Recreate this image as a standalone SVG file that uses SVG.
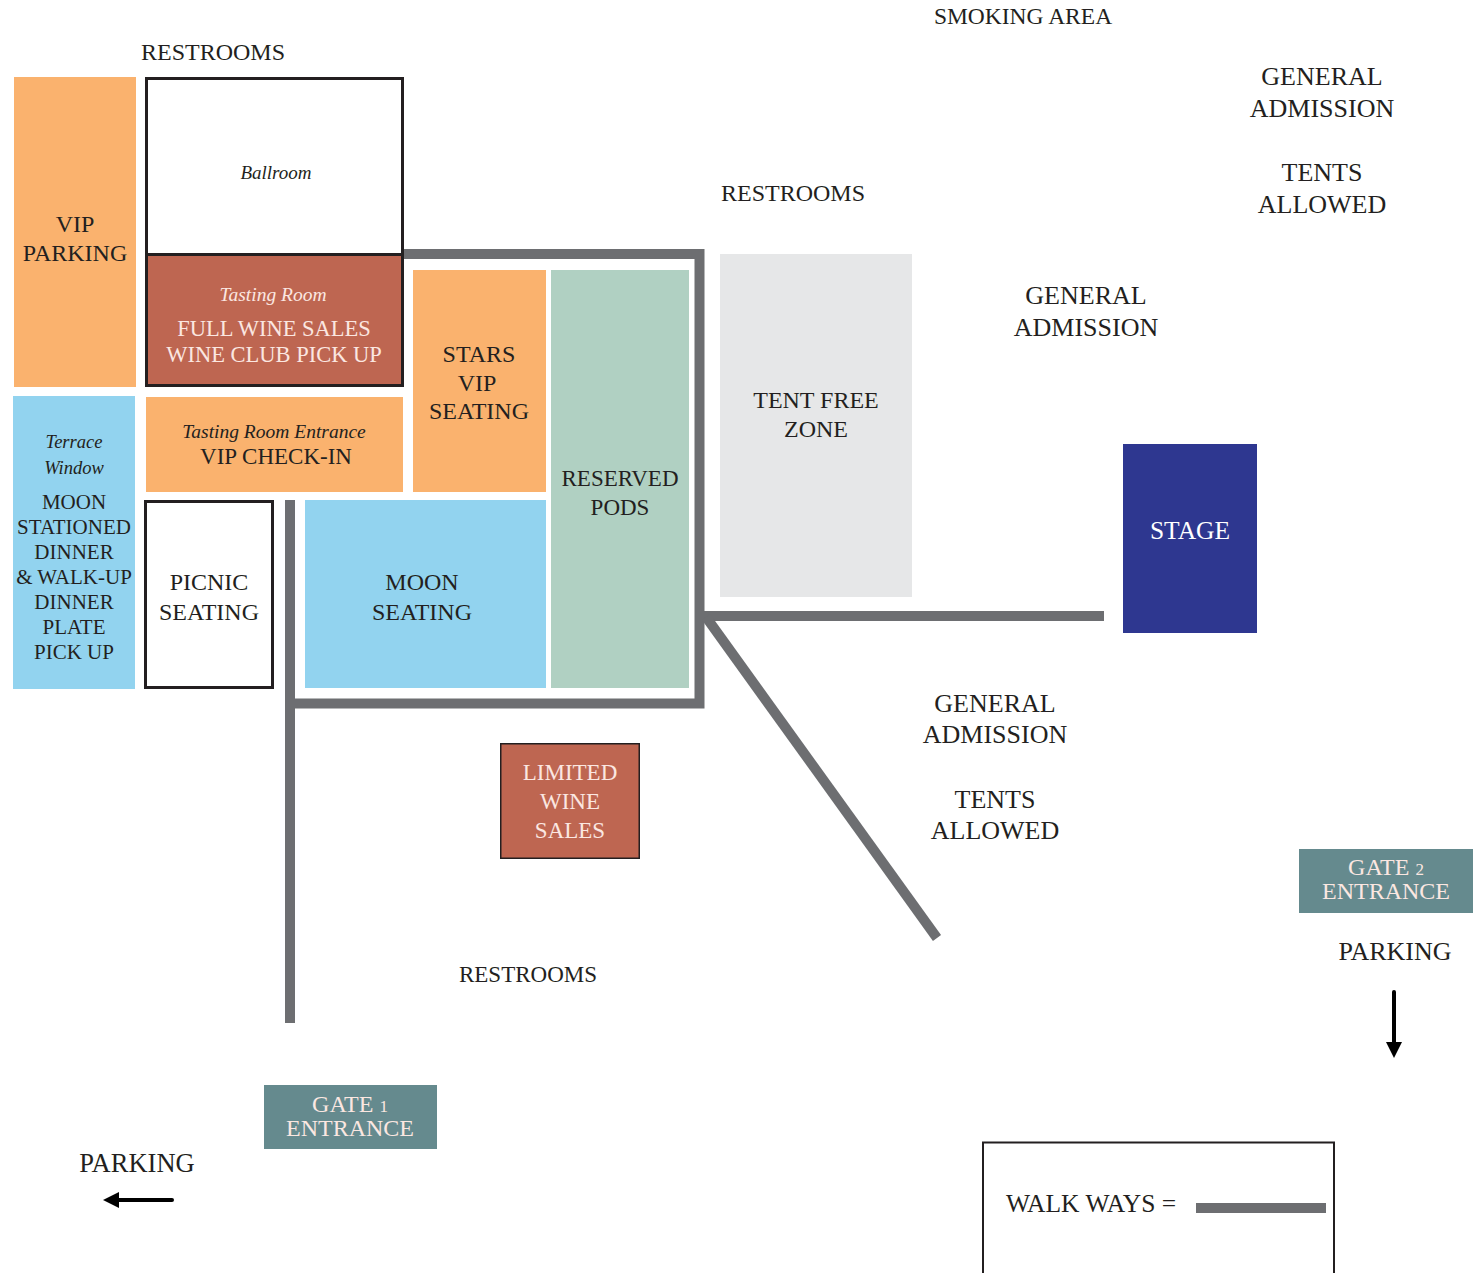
<svg xmlns="http://www.w3.org/2000/svg" width="1475" height="1273" viewBox="0 0 1475 1273">
<style>
text{font-family:"Liberation Serif","Times New Roman",serif;fill:#231F20;text-anchor:middle}
.it{font-style:italic}
.lt{fill:#FBE7E1}
.wh{fill:#FFFFFF}
.orange{fill:#FAB26E}
.blue{fill:#92D3EF}
.red{fill:#BE6651}
.teal{fill:#658A8E}
.box{stroke:#231F20;stroke-width:3}
.walk{fill:none;stroke:#6D6E71;stroke-width:10;stroke-linecap:butt;stroke-linejoin:miter}
.arr{fill:none;stroke:#000;stroke-width:4;stroke-linecap:round}
</style>
<defs>
<marker id="ah" viewBox="0 0 10 10" refX="5" refY="5" markerWidth="4" markerHeight="4" orient="auto-start-reverse" markerUnits="strokeWidth">
<path d="M0,0 L10,5 L0,10 Z" fill="#000"/>
</marker>
</defs>
<rect width="1475" height="1273" fill="#FFFFFF"/>

<g id="walkways">
<path class="walk" d="M404,254 H699.5 V703.5 H285"/>
<path class="walk" d="M290,500 V1023"/>
<path class="walk" d="M704,616 H1104"/>
<path class="walk" d="M706,617 L937,938"/>
</g>

<g id="labels">
<text x="213" y="60" font-size="24">RESTROOMS</text>
<text x="1023" y="24" font-size="23.5">SMOKING AREA</text>
<text x="1322" y="85" font-size="26">GENERAL</text>
<text x="1322" y="117" font-size="26">ADMISSION</text>
<text x="1322" y="181" font-size="26">TENTS</text>
<text x="1322" y="213" font-size="26">ALLOWED</text>
<text x="793" y="201" font-size="24">RESTROOMS</text>
<text x="1086" y="304" font-size="26">GENERAL</text>
<text x="1086" y="336" font-size="26">ADMISSION</text>
<text x="995" y="712" font-size="26">GENERAL</text>
<text x="995" y="743" font-size="26">ADMISSION</text>
<text x="995" y="808" font-size="26">TENTS</text>
<text x="995" y="839" font-size="26">ALLOWED</text>
<text x="528" y="982" font-size="23">RESTROOMS</text>
</g>

<g id="vip-parking">
<rect class="orange" x="14" y="77" width="122" height="310"/>
<text x="75" y="232" font-size="24">VIP</text>
<text x="75" y="261" font-size="24">PARKING</text>
</g>

<g id="ballroom">
<rect x="146.5" y="78.5" width="256" height="176" fill="#FFFFFF" class="box"/>
<text class="it" x="276" y="179" font-size="19">Ballroom</text>
</g>

<g id="tasting-room">
<rect class="red box" x="146.5" y="254.5" width="256" height="131"/>
<text class="it lt" x="273" y="301" font-size="19.5">Tasting Room</text>
<text class="lt" x="274" y="336" font-size="22.5">FULL WINE SALES</text>
<text class="lt" x="274" y="362" font-size="22.5">WINE CLUB PICK UP</text>
</g>

<g id="terrace-window">
<rect class="blue" x="13" y="396" width="122" height="293"/>
<text class="it" x="74" y="448" font-size="18.5">Terrace</text>
<text class="it" x="74" y="474" font-size="18.5">Window</text>
<text x="74" y="509" font-size="21">MOON</text>
<text x="74" y="534" font-size="21">STATIONED</text>
<text x="74" y="559" font-size="21">DINNER</text>
<text x="74" y="584" font-size="21">&amp; WALK-UP</text>
<text x="74" y="609" font-size="21">DINNER</text>
<text x="74" y="634" font-size="21">PLATE</text>
<text x="74" y="659" font-size="21">PICK UP</text>
</g>

<g id="tasting-room-entrance">
<rect class="orange" x="146" y="397" width="257" height="95"/>
<text class="it" x="274" y="438" font-size="19.5">Tasting Room Entrance</text>
<text x="276" y="464" font-size="23">VIP CHECK-IN</text>
</g>

<g id="picnic-seating">
<rect x="145.5" y="501.5" width="127" height="186" fill="#FFFFFF" class="box"/>
<text x="209" y="590" font-size="24">PICNIC</text>
<text x="209" y="620" font-size="24">SEATING</text>
</g>

<g id="stars-vip-seating">
<rect class="orange" x="413" y="270" width="133" height="222"/>
<text x="479" y="362" font-size="24">STARS</text>
<text x="477" y="391" font-size="24">VIP</text>
<text x="479" y="419" font-size="24">SEATING</text>
</g>

<g id="moon-seating">
<rect class="blue" x="305" y="500" width="241" height="188"/>
<text x="422" y="590" font-size="24">MOON</text>
<text x="422" y="620" font-size="24">SEATING</text>
</g>

<g id="reserved-pods">
<rect fill="#B0D0C2" x="551" y="270" width="138" height="418"/>
<text x="620" y="486" font-size="23">RESERVED</text>
<text x="620" y="515" font-size="23">PODS</text>
</g>

<g id="tent-free-zone">
<rect fill="#E6E7E8" x="720" y="254" width="192" height="343"/>
<text x="816" y="408" font-size="24">TENT FREE</text>
<text x="816" y="437" font-size="24">ZONE</text>
</g>

<g id="stage">
<rect fill="#2E3790" x="1123" y="444" width="134" height="189"/>
<text class="wh" x="1190" y="539" font-size="25.5">STAGE</text>
</g>

<g id="limited-wine-sales">
<rect class="red" x="500.75" y="743.75" width="138.5" height="114.5" stroke="#231F20" stroke-width="1.5"/>
<text class="lt" x="570" y="780" font-size="23">LIMITED</text>
<text class="lt" x="570" y="809" font-size="23">WINE</text>
<text class="lt" x="570" y="838" font-size="23">SALES</text>
</g>

<g id="gate-2">
<rect class="teal" x="1299" y="849" width="174" height="64"/>
<text class="lt" x="1386" y="875" font-size="24">GATE <tspan font-size="17">2</tspan></text>
<text class="lt" x="1386" y="899" font-size="24">ENTRANCE</text>
<text x="1395" y="960" font-size="26">PARKING</text>
<path class="arr" d="M1394,992 V1050" marker-end="url(#ah)"/>
</g>

<g id="gate-1">
<rect class="teal" x="264" y="1085" width="173" height="64"/>
<text class="lt" x="350" y="1112" font-size="24">GATE <tspan font-size="17">1</tspan></text>
<text class="lt" x="350" y="1136" font-size="24">ENTRANCE</text>
<text x="137" y="1172" font-size="26.5">PARKING</text>
<path class="arr" d="M172,1200 H111" marker-end="url(#ah)"/>
</g>

<g id="legend">
<path d="M983,1273 V1142.5 H1334 V1273" fill="none" stroke="#231F20" stroke-width="2"/>
<text x="1091" y="1212" font-size="25.5">WALK WAYS =</text>
<rect x="1196" y="1203" width="130" height="10" fill="#6D6E71"/>
</g>
</svg>
